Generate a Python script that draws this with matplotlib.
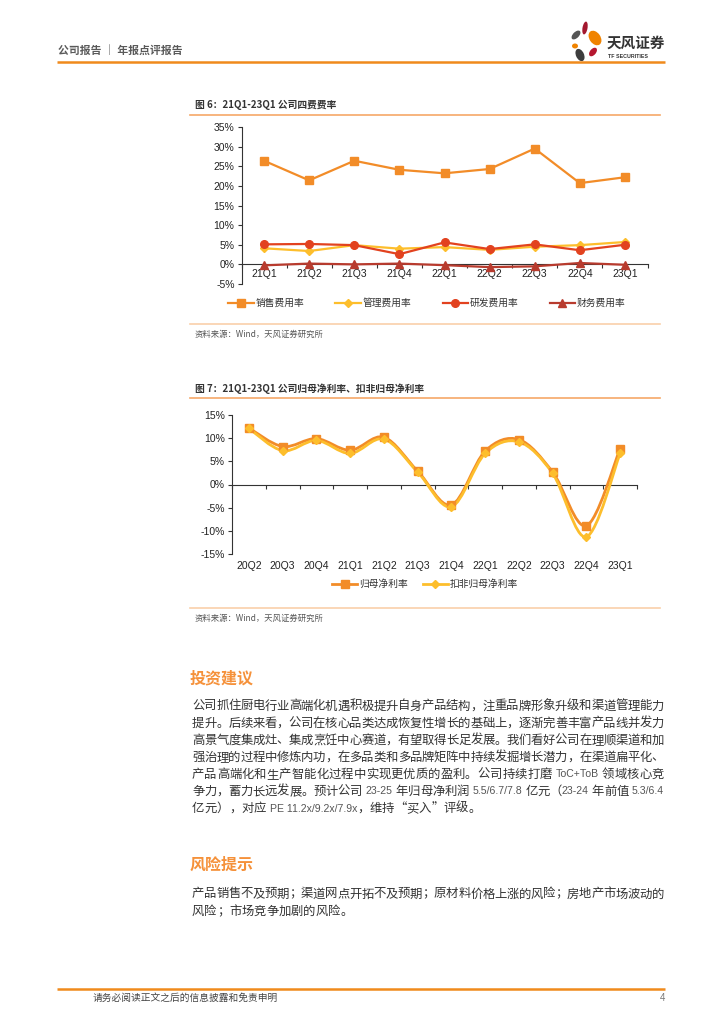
import re
import numpy as np
import matplotlib
matplotlib.use('Agg')
import matplotlib.pyplot as plt
from matplotlib.path import Path
from matplotlib.patches import PathPatch, Ellipse
from matplotlib.lines import Line2D

plt.rcParams['font.family'] = ['Liberation Sans', 'Noto Sans CJK SC', 'DejaVu Sans']
plt.rcParams['axes.unicode_minus'] = False

# ---- data: figure 6 ----
q1 = ['21Q1', '21Q2', '21Q3', '21Q4', '22Q1', '22Q2', '22Q3', '22Q4', '23Q1']
sales = [26.4, 21.4, 26.4, 24.1, 23.2, 24.3, 29.5, 20.7, 22.2]
admin = [4.1, 3.4, 4.9, 4.0, 4.4, 3.7, 4.5, 4.9, 5.7]
rnd = [5.1, 5.2, 4.9, 2.6, 5.6, 3.9, 5.1, 3.6, 5.0]
fin = [-0.25, 0.2, 0.0, 0.2, -0.2, -0.7, -0.5, 0.35, -0.1]
names1 = ['销售费用率', '管理费用率', '研发费用率', '财务费用率']

# ---- data: figure 7 ----
q2 = ['20Q2', '20Q3', '20Q4', '21Q1', '21Q2', '21Q3', '21Q4', '22Q1', '22Q2', '22Q3', '22Q4', '23Q1']
net = [12.2, 8.2, 9.9, 7.4, 10.2, 2.9, -4.4, 7.2, 9.7, 2.7, -8.9, 7.7]
net_ded = [12.1, 7.3, 9.5, 6.7, 9.8, 2.7, -4.8, 6.7, 9.2, 2.4, -11.3, 6.7]
names2 = ['归母净利率', '扣非归母净利率']

body = [
    '公司抓住厨电行业高端化机遇积极提升自身产品结构，注重品牌形象升级和渠道管理能力',
    '提升。后续来看，公司在核心品类达成恢复性增长的基础上，逐渐完善丰富产品线并发力',
    '高景气度集成灶、集成烹饪中心赛道，有望取得长足发展。我们看好公司在理顺渠道和加',
    '强治理的过程中修炼内功，在多品类和多品牌矩阵中持续发掘增长潜力，在渠道扁平化、',
    '产品高端化和生产智能化过程中实现更优质的盈利。公司持续打磨 ToC+ToB 领域核心竞',
    '争力，蓄力长远发展。预计公司 23-25 年归母净利润 5.5/6.7/7.8 亿元（23-24 年前值 5.3/6.4',
    '亿元），对应 PE 11.2x/9.2x/7.9x，维持“买入”评级。',
]
risk = [
    '产品销售不及预期；渠道网点开拓不及预期；原材料价格上涨的风险；房地产市场波动的',
    '风险；市场竞争加剧的风险。',
]

ORANGE = '#F28C28'
YELLOW = '#FDBE2C'
RED = '#E2421F'
DRED = '#B83B2E'
CJK = ['Noto Sans CJK SC', 'DejaVu Sans']
LAT = ['Liberation Sans', 'DejaVu Sans']

W, H = 724, 1024
fig = plt.figure(figsize=(W / 100, H / 100), dpi=100)

# page overlay in pixel coordinates
page = fig.add_axes([0, 0, 1, 1])
page.set_xlim(0, W)
page.set_ylim(H, 0)
page.axis('off')
renderer = fig.canvas.get_renderer()


def rect(l, r, t, b):
    return [l / W, 1 - b / H, (r - l) / W, (b - t) / H]


def para_line(y, line, x0=192, x1=664, justify=True):
    # CJK characters one by one, ascii runs as one piece, spread to full width
    items = []
    for tok in re.findall(r'[ -~]+|.', line):
        if tok[0].isascii():
            s = tok.strip()
            t = page.text(0, y, s, family=LAT, fontsize=7.6, color='#555555', va='center')
            w = t.get_window_extent(renderer).width
            lead = 3.5 if tok[0] == ' ' else 0
            trail = 3.5 if tok[-1] == ' ' else 0
            items.append([t, w, lead, trail])
        else:
            t = page.text(0, y, tok, family=CJK, fontsize=8.9, color='#333333', va='center')
            items.append([t, 12.36, 0, 0])
    natural = sum(w + a + b for _, w, a, b in items)
    gap = (x1 - x0 - natural) / (len(items) - 1) if justify else 0
    x = x0
    for t, w, a, b in items:
        x += a
        t.set_x(x)
        x += w + b + gap


# header
page.text(58, 50, '公司报告 ｜ 年报点评报告', family=CJK, fontsize=7.8, fontweight='bold',
          color='#5a5a5a', va='center')
page.plot([57, 665], [62, 62], color='#F08A1C', lw=1.8, solid_capstyle='butt')
for (cx, cy, w, h, a, c) in [(585, 28, 5, 13, 10, '#A3182F'), (576, 35, 6, 11, 45, '#555555'),
                             (595, 38, 11, 16, -35, '#F08300'), (575, 46, 6, 5, 0, '#F08300'),
                             (580, 55, 8, 13, -25, '#3d3d3d'), (593, 52, 6, 10, 40, '#B5172F')]:
    page.add_patch(Ellipse((cx, cy), w, h, angle=a, color=c, lw=0))
page.text(607, 43, '天风证券', family=CJK, fontsize=10.5, fontweight='bold', color='#333333', va='center')
page.text(608, 56, 'TF SECURITIES', fontsize=3.8, fontweight='bold', color='#333333', va='center')

# figure titles / rules / sources
page.text(195, 105, '图 6：21Q1-23Q1 公司四费费率', family=CJK, fontsize=7, fontweight='bold',
          color='#333333', va='center')
page.plot([190, 660], [115, 115], color='#F6A868', lw=1.2)
page.plot([190, 660], [324, 324], color='#FAD0AA', lw=1.2)
page.text(195, 334, '资料来源：Wind，天风证券研究所', family=CJK, fontsize=6, color='#555555', va='center')

page.text(195, 389, '图 7：21Q1-23Q1 公司归母净利率、扣非归母净利率', family=CJK, fontsize=7,
          fontweight='bold', color='#333333', va='center')
page.plot([190, 660], [398, 398], color='#F6A868', lw=1.2)
page.plot([190, 660], [608, 608], color='#FAD0AA', lw=1.2)
page.text(195, 618, '资料来源：Wind，天风证券研究所', family=CJK, fontsize=6, color='#555555', va='center')

# body text
page.text(190, 678, '投资建议', family=CJK, fontsize=11.5, fontweight='bold', color='#F5913A', va='center')
for i, ln in enumerate(body):
    para_line(706 + i * 17.1, ln, justify=(i < len(body) - 1))
page.text(190, 865, '风险提示', family=CJK, fontsize=11.5, fontweight='bold', color='#F5913A', va='center')
for i, ln in enumerate(risk):
    para_line(894 + i * 17.5, ln, justify=(i < len(risk) - 1))

# footer
page.plot([57, 665], [989, 989], color='#F08A1C', lw=1.8, solid_capstyle='butt')
page.text(93, 998, '请务必阅读正文之后的信息披露和免责申明', family=CJK, fontsize=7, color='#444444', va='center')
page.text(665, 998, '4', fontsize=7, color='#777777', va='center', ha='right')


def style_axes(ax, n, yticks, pad):
    ax.set_facecolor('none')
    for s in ['top', 'right']:
        ax.spines[s].set_visible(False)
    ax.spines['bottom'].set_position(('data', 0))
    for s in ['left', 'bottom']:
        ax.spines[s].set_color('#333333')
        ax.spines[s].set_linewidth(0.8)
    ax.set_xlim(-0.5, n - 0.5)
    ax.set_ylim(yticks[0], yticks[-1])
    ax.set_yticks(yticks, [f'{v}%' for v in yticks])
    ax.set_xticks(np.arange(-0.5, n, 1.0), [])
    ax.tick_params(axis='y', length=3, width=0.8, color='#333333', labelsize=7.5, labelcolor='#222222', pad=2)
    ax.tick_params(axis='x', which='major', length=3, width=0.8, color='#333333')
    ax.tick_params(axis='x', which='minor', length=0, labelsize=7.5, labelcolor='#222222', pad=pad)


# ---- figure 6 ----
ax1 = fig.add_axes(rect(241.5, 647.5, 127, 284))
x1 = np.arange(len(q1))
ax1.plot(x1, sales, color=ORANGE, lw=1.6, marker='s', ms=5.5, zorder=4)
ax1.plot(x1, admin, color=YELLOW, lw=1.6, marker='D', ms=4, zorder=3)
ax1.plot(x1, rnd, color=RED, lw=1.6, marker='o', ms=5.5, zorder=4)
ax1.plot(x1, fin, color=DRED, lw=1.6, marker='^', ms=5.5, zorder=5)
style_axes(ax1, len(q1), list(range(-5, 40, 5)), 3)
ax1.set_xticks(x1, q1, minor=True)

h1 = [Line2D([], [], color=ORANGE, lw=1.6, marker='s', ms=5.5),
      Line2D([], [], color=YELLOW, lw=1.6, marker='D', ms=4),
      Line2D([], [], color=RED, lw=1.6, marker='o', ms=5.5),
      Line2D([], [], color=DRED, lw=1.6, marker='^', ms=5.5)]
fig.legend(h1, names1, loc='center', bbox_to_anchor=(427 / W, 1 - 303 / H), ncol=4, frameon=False,
           prop={'family': CJK, 'size': 7}, handlelength=2.6, handletextpad=0.2, columnspacing=3.2,
           labelcolor='#333333')


# ---- figure 7 ----
def smooth_path(xs, ys):
    pts = np.column_stack([xs, ys]).astype(float)
    verts = [pts[0]]
    codes = [Path.MOVETO]
    n = len(pts)
    for i in range(n - 1):
        p0 = pts[max(i - 1, 0)]
        p1 = pts[i]
        p2 = pts[i + 1]
        p3 = pts[min(i + 2, n - 1)]
        verts += [p1 + (p2 - p0) / 6, p2 - (p3 - p1) / 6, p2]
        codes += [Path.CURVE4] * 3
    return Path(verts, codes)


ax2 = fig.add_axes(rect(232, 637, 415, 554))
x2 = np.arange(len(q2))
ax2.add_patch(PathPatch(smooth_path(x2, net), fill=False, edgecolor=ORANGE, lw=2.0, zorder=3))
ax2.add_patch(PathPatch(smooth_path(x2, net_ded), fill=False, edgecolor=YELLOW, lw=2.0, zorder=4))
ax2.plot(x2, net, ls='none', color=ORANGE, marker='s', ms=5.5, zorder=5)
ax2.plot(x2, net_ded, ls='none', color=YELLOW, marker='D', ms=4, zorder=6)
style_axes(ax2, len(q2), list(range(-15, 20, 5)), 55)
ax2.set_xticks(x2, q2, minor=True)

h2 = [Line2D([], [], color=ORANGE, lw=2.0, marker='s', ms=5.5),
      Line2D([], [], color=YELLOW, lw=2.0, marker='D', ms=4)]
fig.legend(h2, names2, loc='center', bbox_to_anchor=(425 / W, 1 - 584 / H), ncol=2, frameon=False,
           prop={'family': CJK, 'size': 7}, handlelength=2.6, handletextpad=0.2, columnspacing=1.5,
           labelcolor='#333333')

fig.savefig('out.png', dpi=100)
